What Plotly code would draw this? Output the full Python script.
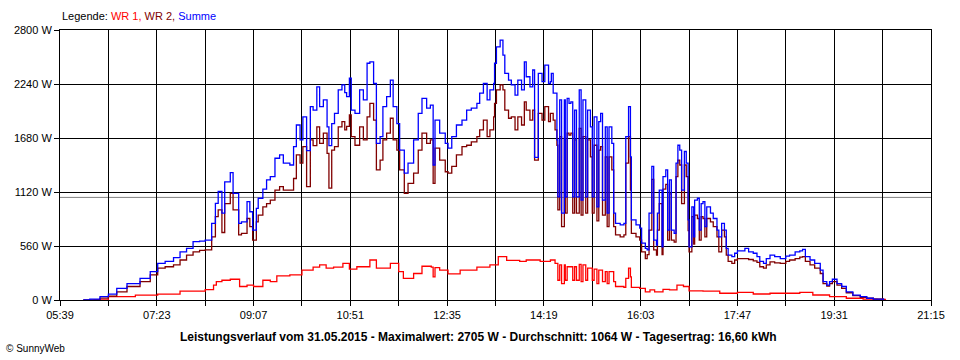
import plotly.graph_objects as go

# ---------------- data ----------------
TICK_LABELS = ["05:39", "07:23", "09:07", "10:51", "12:35", "14:19",
               "16:03", "17:47", "19:31", "21:15"]
Y_TICKS = [0, 560, 1120, 1680, 2240, 2800]
AVERAGE_W = 1064
TITLE = ("Leistungsverlauf vom 31.05.2015 - Maximalwert: 2705 W - "
         "Durchschnitt: 1064 W - Tagesertrag: 16,60 kWh")

# time in minutes since midnight
T_MAIN = [
    364, 371, 382, 391, 400, 411, 425, 436, 444, 452,
    461, 468, 475, 482, 489, 495, 502, 506, 509, 513,
    516, 522, 525, 531, 534, 540, 543, 546, 550, 552,
    557, 561, 565, 570, 575, 579, 586, 590, 593, 597,
    600, 604, 608, 611, 615, 618, 622, 626, 628, 631,
    634, 638, 642, 645, 647, 650, 652, 656, 661, 665,
    669, 672, 676, 679, 683, 686, 690, 694, 697, 701,
    704, 709, 713, 719, 724, 728, 733, 737, 740, 742,
    747, 753, 756, 760, 765, 771, 776, 781, 787, 790,
    794, 798, 801, 805, 806, 808, 812, 815, 817, 821,
    824, 828, 831, 835, 838, 840, 844, 847, 849, 853,
    857, 860, 864, 866, 867, 869, 871, 873, 874, 876,
    878, 881, 882, 884, 886, 888, 890, 892, 894, 897,
    899, 901, 904, 906, 909, 911, 913, 916, 918, 920,
    922, 925, 927, 929, 932, 934, 936, 941, 945, 947,
    950, 952, 953, 958, 962, 964, 968, 970, 972, 975,
    977, 980, 981, 983, 986, 987, 990, 992, 994, 996,
    999, 1001, 1003, 1005, 1007, 1010, 1012, 1014, 1015, 1018,
    1020, 1021, 1024, 1026, 1028, 1030, 1032, 1034, 1038, 1041,
    1045, 1047, 1050, 1053, 1055, 1057, 1061, 1064, 1067, 1073,
    1075, 1079, 1084, 1088, 1091, 1095, 1098, 1102, 1107, 1113,
    1119, 1123, 1129, 1134, 1137, 1140, 1145, 1150, 1156, 1159,
    1163, 1166, 1169, 1174, 1179, 1184, 1191, 1199, 1206, 1213,
    1224,
]
SUMME = [
    0, 10, 35, 60, 120, 170, 225, 295, 380, 400,
    440, 500, 535, 605, 610, 620, 795, 1003, 1125, 900,
    1225, 1320, 1105, 795, 810, 1020, 915, 725, 950, 1055,
    1150, 1245, 1280, 1470, 1505, 1420, 1400, 1590, 1815, 1660,
    1900, 1550, 2005, 1970, 2210, 2005, 2075, 1795, 1600, 1830,
    1935, 2180, 2230, 2150, 2110, 2300, 1970, 1935, 2180, 2075,
    2455, 2470, 2245, 1625, 1695, 2005, 2110, 2280, 2005, 1830,
    1555, 1315, 1420, 1660, 1935, 2090, 1990, 2020, 1400, 1865,
    1730, 1625, 1575, 1695, 1815, 1865, 1970, 1990, 2040, 2145,
    2245, 2075, 2180, 2245, 2455, 2625, 2695, 2540, 2350, 2280,
    2230, 2125, 2280, 2180, 2470, 2315, 2210, 2385, 1480, 2350,
    2265, 2435, 2245, 2265, 2350, 2145, 2145, 1660, 1070, 2075,
    900, 2075, 1070, 2090, 2040, 2055, 1070, 1970, 1070, 2180,
    1035, 2075, 1070, 1970, 1795, 1070, 1900, 965, 1850, 1935,
    1035, 1795, 900, 1795, 1625, 900, 795, 780, 795, 1695,
    2005, 1485, 830, 780, 745, 590, 535, 520, 900, 1385,
    620, 570, 900, 1140, 550, 1280, 1350, 725, 1245, 725,
    690, 1420, 1605, 1555, 1140, 1540, 1420, 830, 550, 965,
    655, 1035, 1055, 725, 1000, 1020, 760, 965, 900, 845,
    725, 655, 795, 725, 535, 465, 450, 485, 510, 510,
    535, 500, 485, 450, 400, 380, 430, 465, 450, 430,
    455, 465, 500, 510, 525, 450, 415, 380, 310, 190,
    155, 190, 215, 170, 140, 85, 50, 35, 18, 10,
    0,
]
WR2 = [
    0, 0, 20, 40, 85, 140, 190, 260, 330, 345,
    365, 415, 465, 500, 515, 520, 655, 865, 935, 700,
    1000, 1105, 935, 675, 690, 845, 760, 620, 810, 880,
    965, 1000, 1035, 1140, 1175, 1140, 1140, 1260, 1505, 1420,
    1590, 1175, 1660, 1600, 1795, 1625, 1730, 1520, 1160, 1555,
    1590, 1795, 1850, 1765, 1800, 1920, 1695, 1605, 1795, 1660,
    1900, 2040, 1865, 1350, 1450, 1660, 1730, 1885, 1660, 1555,
    1350, 1105, 1210, 1315, 1555, 1730, 1625, 1660, 1210, 1575,
    1450, 1330, 1315, 1385, 1505, 1590, 1605, 1640, 1695, 1765,
    1865, 1695, 1765, 1900, 2040, 2180, 2230, 2180, 1970, 1885,
    1900, 1765, 1900, 1815, 2055, 1970, 1865, 1970, 1450, 1935,
    1865, 2005, 1850, 1935, 1935, 1865, 1765, 1605, 935, 1695,
    760, 1675, 900, 1730, 1710, 1730, 900, 1660, 900, 1780,
    880, 1695, 900, 1660, 1485, 900, 1605, 820, 1555, 1590,
    880, 1485, 760, 1485, 1350, 760, 675, 655, 675, 1420,
    1695, 1140, 690, 655, 620, 500, 430, 470, 725, 1250,
    520, 465, 725, 1000, 470, 1150, 1200, 620, 1100, 620,
    600, 1280, 1450, 1400, 1000, 1400, 1280, 720, 500, 865,
    580, 880, 845, 620, 865, 845, 655, 845, 810, 760,
    655, 500, 725, 655, 465, 400, 380, 415, 430, 430,
    430, 420, 405, 390, 345, 330, 365, 395, 385, 380,
    400, 415, 430, 445, 450, 400, 365, 330, 275, 170,
    145, 170, 190, 155, 120, 75, 45, 28, 18, 10,
    0,
]
T_WR1 = [
    375, 391, 420, 444, 468, 495, 504, 507, 513, 522,
    532, 540, 547, 557, 565, 572, 586, 599, 611, 618,
    625, 633, 643, 650, 658, 672, 679, 694, 703, 708,
    719, 728, 738, 740, 742, 747, 756, 769, 787, 801,
    810, 819, 833, 840, 855, 866, 871, 874, 876, 878,
    881, 882, 884, 890, 892, 894, 897, 899, 901, 904,
    906, 911, 913, 916, 918, 922, 925, 927, 929, 934,
    936, 945, 947, 950, 952, 953, 962, 968, 973, 978,
    987, 994, 1002, 1009, 1015, 1026, 1030, 1048, 1067, 1084,
    1102, 1123, 1134, 1148, 1166, 1184, 1202, 1217, 1226,
]
WR1 = [
    0, 35, 50, 60, 93, 108, 155, 190, 205, 215,
    140, 155, 140, 205, 190, 250, 260, 310, 340, 365,
    330, 340, 380, 320, 345, 415, 330, 380, 295, 225,
    275, 350, 340, 240, 335, 310, 270, 310, 340, 365,
    450, 410, 400, 415, 400, 415, 380, 205, 365, 170,
    365, 205, 345, 205, 345, 205, 370, 190, 365, 205,
    330, 205, 320, 170, 310, 190, 295, 170, 295, 190,
    140, 130, 225, 330, 240, 130, 120, 85, 105, 85,
    110, 105, 155, 140, 95, 95, 93, 70, 80, 62,
    70, 70, 80, 52, 35, 18, 10, 5, 0,
]

assert len(T_MAIN) == len(SUMME) == len(WR2), (len(T_MAIN), len(SUMME), len(WR2))
assert len(T_WR1) == len(WR1), (len(T_WR1), len(WR1))

# ---------------- figure ----------------
def to_min(s):
    h, m = s.split(":")
    return int(h) * 60 + int(m)

tickvals = [to_min(s) for s in TICK_LABELS]
minor_step = (tickvals[1] - tickvals[0]) / 2

FONT = "Liberation Sans, Arial, sans-serif"
C_WR1, C_WR2, C_SUM = "#FF0000", "#800000", "#0000FF"

fig = go.Figure()
fig.add_trace(go.Scatter(x=T_WR1, y=WR1, mode="lines", name="WR 1",
                         line=dict(color=C_WR1, width=1.3, shape="hv")))
fig.add_trace(go.Scatter(x=T_MAIN, y=WR2, mode="lines", name="WR 2",
                         line=dict(color=C_WR2, width=1.3, shape="hv")))
fig.add_trace(go.Scatter(x=T_MAIN, y=SUMME, mode="lines", name="Summe",
                         line=dict(color=C_SUM, width=1.3, shape="hv")))

fig.add_shape(type="line", xref="paper", x0=0, x1=1, yref="y",
              y0=AVERAGE_W, y1=AVERAGE_W, layer="below",
              line=dict(color="#808080", width=1))

fig.update_layout(
    width=960, height=360,
    margin=dict(l=60, r=29, t=30, b=60),
    paper_bgcolor="white", plot_bgcolor="white",
    showlegend=False,
    font=dict(family=FONT, size=11, color="black"),
)
fig.update_xaxes(
    range=[tickvals[0], tickvals[-1]],
    tickvals=tickvals, ticktext=TICK_LABELS,
    ticks="outside", ticklen=5, tickcolor="black", tickwidth=1,
    showgrid=True, gridcolor="black", gridwidth=1,
    showline=True, linecolor="black", linewidth=1, mirror=True,
    zeroline=False,
    minor=dict(tick0=tickvals[0], dtick=minor_step, showgrid=True,
               gridcolor="black", gridwidth=1, ticks="outside",
               ticklen=5, tickcolor="black"),
    tickfont=dict(size=11, color="black"),
)
fig.update_yaxes(
    range=[Y_TICKS[0], Y_TICKS[-1]],
    tickvals=Y_TICKS, ticktext=[f"{v} W" for v in Y_TICKS],
    ticks="outside", ticklen=5, tickcolor="black", tickwidth=1,
    showgrid=True, gridcolor="black", gridwidth=1,
    showline=True, linecolor="black", linewidth=1, mirror=True,
    zeroline=False,
    tickfont=dict(size=11, color="black"),
)

legend_text = ("Legende: "
               f"<span style='color:{C_WR1}'>WR 1,</span> "
               f"<span style='color:{C_WR2}'>WR 2,</span> "
               f"<span style='color:{C_SUM}'>Summe</span>")
fig.add_annotation(text=legend_text, xref="paper", yref="paper",
                   x=0, y=1.052, xanchor="left", yanchor="middle",
                   showarrow=False, font=dict(size=11, color="black"))
fig.add_annotation(text=f"<b>{TITLE}</b>", xref="paper", yref="paper",
                   x=0.481, y=-0.137, xanchor="center", yanchor="middle",
                   showarrow=False, font=dict(size=12, color="black"))
fig.add_annotation(text="© SunnyWeb", xref="paper", yref="paper",
                   x=-0.064, y=-0.18, xanchor="left", yanchor="middle",
                   showarrow=False, font=dict(size=10, color="black"))

fig.write_html(
    "out.html",
    config={"displayModeBar": False},
    post_script="document.body.style.margin='0';document.body.style.overflow='hidden';",
)
